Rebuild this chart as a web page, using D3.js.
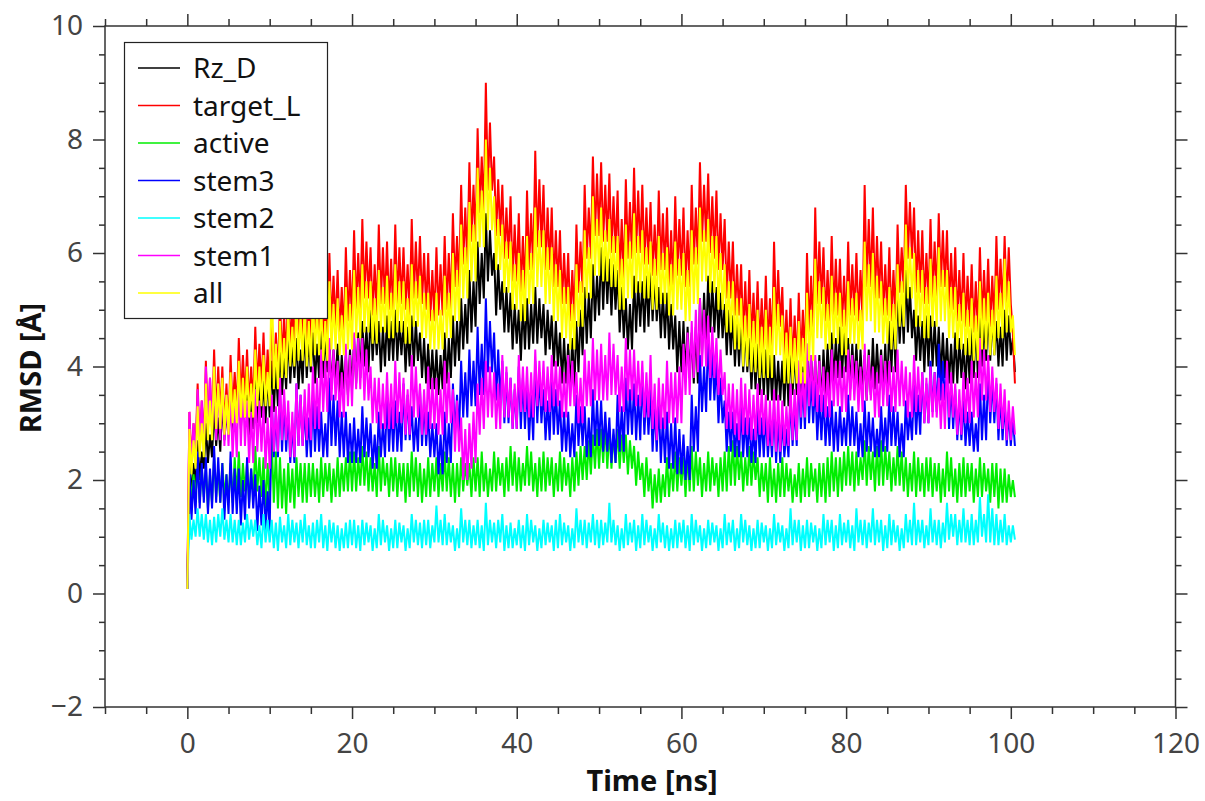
<!DOCTYPE html>
<html><head><meta charset="utf-8">
<script src="https://cdn.jsdelivr.net/npm/d3@7"></script>
<style>html,body{margin:0;padding:0;background:#fff;}svg{display:block;}</style>
</head><body>
<svg id="chart" width="1205" height="801"></svg>
<script>
// ---- data (RMSD in Å, sampled every 0.25 ns from 0 to 100.5 ns) ----
const seriesNames = ["Rz_D","target_L","active","stem3","stem2","stem1","all"];
const seriesColors = ["#000000","#ff0000","#00ee00","#0000ff","#00ffff","#ff00ff","#ffff00"];
const xTickLabels = [0,20,40,60,80,100,120];
const yTickLabels = [-2,0,2,4,6,8,10];
const sampleStep = 0.25;

const rzD = [0.08,
2.4,1.7,2.3,1.9,2.7,2.0,2.5,2.2,3.0,2.3,2.8,2.4,3.3,2.6,3.1,2.5,3.4,2.7,3.2,2.8,
3.6,2.8,3.4,3.0,3.8,2.9,3.6,3.1,3.5,2.7,3.4,2.9,3.9,3.0,3.7,3.1,3.8,3.0,3.9,3.1,
4.1,3.2,4.0,3.3,4.4,3.5,4.2,3.6,4.6,3.7,4.4,3.8,4.5,3.6,4.3,3.7,4.7,3.8,4.5,3.9,
4.6,3.7,4.4,3.8,4.8,3.8,4.6,3.9,4.5,3.6,4.3,3.7,4.4,3.5,4.2,3.6,4.2,3.5,4.3,3.6,
4.5,3.7,4.6,3.8,4.8,4.0,4.7,3.9,5.0,4.1,4.8,4.2,4.8,3.9,4.7,4.0,4.9,4.1,4.8,4.1,
5.0,4.1,4.8,4.2,4.8,3.9,4.7,4.0,4.9,4.0,4.8,4.1,4.6,3.8,4.5,3.7,4.4,3.6,4.3,3.6,
4.3,3.5,4.2,3.6,4.6,3.7,4.5,3.8,4.9,4.0,4.8,4.1,5.2,4.3,5.1,4.4,5.7,4.6,5.5,4.7,
6.2,5.1,6.0,5.2,6.7,5.5,6.4,5.6,6.0,4.9,5.8,5.0,5.5,4.6,5.4,4.6,5.3,4.3,5.1,4.4,
5.0,4.1,5.1,4.3,5.2,4.3,5.1,4.4,5.4,4.4,5.2,4.5,5.1,4.2,5.0,4.3,4.9,4.0,4.8,4.0,
4.6,3.7,4.5,3.7,4.4,3.6,4.5,3.6,4.8,3.9,5.0,4.2,5.4,4.4,5.3,4.5,5.8,4.8,5.6,4.9,
6.1,5.0,6.0,5.1,5.9,4.9,5.8,5.0,5.7,4.6,5.4,4.5,5.2,4.3,5.1,4.3,5.6,4.6,5.5,4.7,
5.5,4.6,5.6,4.7,5.7,4.8,5.6,4.8,5.4,4.5,5.3,4.5,5.3,4.3,5.1,4.3,4.9,3.9,4.8,3.9,
4.8,3.8,4.7,3.8,4.6,3.7,4.7,3.7,5.2,4.2,5.3,4.4,5.6,4.6,5.5,4.6,5.4,4.5,5.3,4.5,
5.1,4.2,5.0,4.2,4.9,4.0,4.8,4.0,4.8,3.9,4.7,3.9,4.5,3.6,4.4,3.6,4.4,3.5,4.3,3.5,
4.3,3.4,4.2,3.4,4.2,3.4,4.1,3.4,4.1,3.3,4.2,3.3,4.4,3.5,4.3,3.5,4.1,3.3,4.0,3.3,
4.4,3.4,4.2,3.4,4.1,3.3,4.2,3.3,4.3,3.5,4.4,3.5,4.6,3.7,4.5,3.8,4.7,3.8,4.6,3.9,
4.5,3.6,4.4,3.7,4.4,3.5,4.3,3.6,4.2,3.4,4.3,3.5,4.5,3.6,4.4,3.7,4.3,3.5,4.4,3.6,
4.8,3.9,5.0,3.9,5.4,4.4,5.2,4.4,5.7,4.6,5.4,4.5,5.0,4.1,4.9,4.1,4.8,3.9,4.9,4.0,
4.9,4.0,4.8,4.0,4.7,3.8,4.6,3.8,4.5,3.7,4.4,3.7,4.6,3.7,4.5,3.8,4.4,3.6,4.5,3.7,
4.7,3.8,4.8,3.8,4.9,4.0,4.8,4.1,5.0,4.1,4.9,4.2,4.8,4.0,4.7,4.0,5.0,4.1,4.9,4.2,
4.5,3.9];

const targetL = [0.1,
3.2,2.3,3.0,2.5,3.7,2.6,3.4,2.6,4.1,2.9,3.8,2.9,4.3,3.1,4.0,3.1,4.0,2.9,3.7,2.9,
4.2,3.2,3.9,3.2,4.5,3.4,4.2,3.4,4.3,3.3,4.0,3.3,4.7,3.6,4.4,3.6,4.6,3.5,4.3,3.5,
4.9,3.8,4.6,3.8,5.2,4.1,4.9,4.1,5.5,4.3,5.1,4.3,5.7,4.4,5.3,4.4,5.4,4.3,5.1,4.3,
5.8,4.5,5.4,4.5,5.5,4.4,5.2,4.4,6.0,4.7,5.6,4.7,5.7,4.5,5.4,4.5,6.1,4.8,5.7,4.8,
6.4,5.0,6.0,5.0,6.6,5.2,6.2,5.2,6.1,4.9,5.8,4.9,6.5,5.1,6.1,5.1,6.2,5.0,5.9,4.9,
6.5,5.1,6.1,5.1,6.1,5.0,5.8,4.9,6.6,5.2,6.2,5.2,6.3,5.1,6.0,5.0,6.0,4.8,5.7,4.8,
6.1,4.9,5.8,4.9,6.3,5.0,6.0,5.0,6.7,5.4,6.3,5.4,7.2,5.8,6.8,5.8,7.6,6.2,7.2,6.2,
8.2,6.7,7.7,6.7,9.0,7.1,8.3,7.1,7.7,6.3,7.3,6.3,7.2,5.9,6.8,5.9,7.0,5.5,6.5,5.5,
6.7,5.3,6.3,5.3,7.1,5.7,6.7,5.7,7.8,6.1,7.3,6.1,7.2,5.7,6.8,5.7,6.8,5.4,6.4,5.4,
6.4,5.1,6.0,5.1,6.0,4.8,5.7,4.8,6.5,5.3,6.2,5.3,7.2,5.9,6.8,5.9,7.7,6.3,7.4,6.3,
7.6,6.2,7.2,6.2,7.4,6.0,7.0,6.0,7.1,5.5,6.6,5.5,7.3,5.9,6.9,5.9,7.5,6.0,7.1,6.0,
7.2,5.8,6.8,5.8,6.9,5.6,6.5,5.6,7.1,5.7,6.7,5.7,6.8,5.4,6.4,5.4,7.0,5.6,6.6,5.6,
6.8,5.4,6.4,5.4,7.2,5.8,6.8,5.8,7.6,6.2,7.2,6.2,7.4,6.0,7.0,5.9,7.1,5.7,6.7,5.7,
6.6,5.2,6.2,5.2,6.2,4.9,5.8,4.9,5.8,4.5,5.5,4.5,5.7,4.4,5.3,4.4,5.5,4.3,5.2,4.3,
5.6,4.3,5.2,4.3,6.2,4.7,5.7,4.7,5.4,4.1,5.0,4.1,5.2,4.0,4.9,4.0,5.3,4.1,5.0,4.1,
6.0,4.6,5.6,4.6,6.8,5.1,6.2,5.1,6.1,4.8,5.7,4.8,6.3,4.9,5.9,4.9,5.9,4.7,5.6,4.7,
6.2,4.9,5.8,4.9,6.0,4.8,5.7,4.8,7.2,5.4,6.6,5.4,6.8,5.2,6.3,5.2,6.2,4.9,5.8,4.9,
6.1,4.8,5.7,4.8,6.5,5.3,6.1,5.3,7.2,5.9,6.9,5.9,6.8,5.3,6.4,5.3,6.4,5.1,6.0,5.1,
6.6,5.2,6.2,5.2,6.7,5.4,6.4,5.4,6.4,5.0,6.0,5.0,6.1,4.8,5.7,4.8,6.0,4.7,5.6,4.7,
5.8,4.6,5.5,4.6,6.1,4.8,5.7,4.8,5.9,4.7,5.6,4.7,6.3,5.0,5.9,5.0,6.3,5.1,6.1,5.1,
4.6,3.7];

const active = [0.08,
2.2,1.6,2.1,1.7,2.3,1.6,2.2,1.7,2.2,1.5,2.1,1.6,2.4,1.7,2.2,1.6,2.3,1.7,2.1,1.6,
2.3,1.6,2.4,1.7,2.5,1.7,2.3,1.8,2.3,1.6,2.2,1.7,2.6,1.8,2.4,1.7,2.4,1.5,2.3,1.6,
2.7,1.6,2.5,1.5,2.4,1.5,2.2,1.4,2.3,1.6,2.2,1.5,2.4,1.7,2.3,1.6,2.3,1.6,2.3,1.7,
2.3,1.7,2.2,1.6,2.4,1.7,2.3,1.8,2.3,1.6,2.2,1.7,2.4,1.7,2.3,1.8,2.4,1.8,2.5,1.8,
2.5,1.8,2.4,1.9,2.6,1.9,2.5,1.8,2.4,1.8,2.3,1.7,2.6,1.8,2.4,1.9,2.3,1.7,2.4,1.8,
2.4,1.7,2.3,1.8,2.3,1.6,2.3,1.7,2.5,1.8,2.4,1.7,2.3,1.6,2.2,1.7,2.4,1.7,2.3,1.8,
2.4,1.7,2.3,1.8,2.5,1.8,2.4,1.7,2.3,1.6,2.3,1.7,2.4,1.8,2.3,1.9,2.3,1.7,2.4,1.8,
2.4,1.7,2.5,1.8,2.3,1.7,2.2,1.8,2.5,1.8,2.4,1.9,2.3,1.7,2.4,1.8,2.6,1.9,2.5,1.8,
2.4,1.8,2.3,1.9,2.6,1.9,2.5,1.8,2.3,1.7,2.4,1.8,2.5,1.8,2.4,1.9,2.4,1.7,2.3,1.8,
2.5,1.8,2.4,1.9,2.3,1.7,2.4,1.8,2.5,1.9,2.6,2.0,2.6,2.0,2.7,2.1,2.8,2.2,2.9,2.2,
2.9,2.3,3.0,2.2,2.9,2.2,2.8,2.3,2.9,2.2,2.8,2.3,2.8,2.1,2.7,2.2,2.6,1.9,2.5,2.0,
2.3,1.7,2.4,1.8,2.2,1.5,2.1,1.6,2.2,1.6,2.1,1.7,2.4,1.7,2.3,1.8,2.5,1.8,2.4,1.9,
2.4,1.7,2.5,1.8,2.6,1.8,2.5,1.9,2.4,1.7,2.3,1.8,2.5,1.8,2.4,1.9,2.3,1.7,2.4,1.8,
2.5,1.8,2.6,1.9,2.7,1.9,2.6,2.0,2.5,1.8,2.4,1.9,2.6,1.9,2.5,2.0,2.4,1.7,2.3,1.8,
2.3,1.6,2.4,1.7,2.2,1.6,2.3,1.7,2.4,1.7,2.3,1.8,2.2,1.6,2.1,1.7,2.3,1.6,2.2,1.7,
2.4,1.7,2.3,1.8,2.2,1.6,2.3,1.7,2.3,1.6,2.4,1.7,2.5,1.8,2.4,1.7,2.4,1.8,2.5,1.9,
2.6,1.9,2.5,1.8,2.5,1.9,2.4,2.0,2.7,1.9,2.6,2.0,2.5,1.8,2.6,1.9,2.7,1.9,2.6,2.0,
2.5,1.8,2.4,1.9,2.6,1.9,2.5,1.8,2.4,1.7,2.3,1.8,2.5,1.7,2.4,1.8,2.3,1.7,2.4,1.8,
2.4,1.7,2.3,1.8,2.3,1.6,2.2,1.7,2.5,1.8,2.4,1.7,2.2,1.6,2.3,1.7,2.4,1.7,2.3,1.8,
2.3,1.6,2.2,1.7,2.4,1.7,2.3,1.8,2.2,1.6,2.3,1.7,2.3,1.5,2.2,1.6,2.2,1.6,2.1,1.7,
2.0,1.7];

const stem3 = [0.08,
2.2,1.3,2.0,1.4,2.5,1.5,2.3,1.6,2.4,1.4,2.2,1.5,2.6,1.6,2.4,1.6,2.3,1.3,2.1,1.4,
2.5,1.4,2.2,1.4,2.2,1.2,2.0,1.3,2.4,1.5,2.2,1.5,2.1,1.1,1.9,1.2,2.0,1.1,1.8,1.1,
3.4,2.4,3.2,2.4,3.6,2.5,3.4,2.5,3.2,2.3,3.0,2.3,3.7,2.6,3.5,2.6,3.3,2.4,3.1,2.4,
3.5,2.5,3.3,2.5,3.2,2.4,3.0,2.4,3.8,2.6,3.5,2.6,3.4,2.4,3.2,2.4,3.2,2.3,3.0,2.3,
3.1,2.3,2.9,2.3,3.3,2.4,3.1,2.4,3.0,2.2,2.8,2.2,3.2,2.4,3.0,2.4,3.5,2.5,3.3,2.5,
3.4,2.5,3.2,2.5,3.7,2.7,3.5,2.7,3.3,2.5,3.1,2.5,3.6,2.6,3.4,2.6,3.2,2.4,3.0,2.4,
3.0,2.1,2.8,2.1,3.2,2.3,3.0,2.3,3.7,2.8,3.5,2.8,4.1,3.1,3.9,3.1,4.3,3.3,4.1,3.3,
4.7,3.5,4.4,3.5,5.2,3.9,4.8,3.9,4.6,3.4,4.3,3.4,4.1,3.0,3.9,3.0,3.8,2.9,3.6,2.9,
4.0,2.9,3.8,2.9,3.7,2.7,3.5,2.7,4.1,3.0,3.9,3.0,3.6,2.7,3.4,2.7,3.8,2.8,3.6,2.8,
3.4,2.5,3.2,2.5,3.2,2.4,3.0,2.4,3.5,2.6,3.3,2.6,3.3,2.4,3.1,2.4,3.6,2.6,3.4,2.6,
3.4,2.5,3.2,2.5,3.1,2.3,2.9,2.3,3.5,2.5,3.3,2.5,3.8,2.8,3.6,2.8,3.7,2.7,3.5,2.7,
3.9,2.8,3.6,2.8,3.6,2.5,3.3,2.5,3.4,2.3,3.1,2.3,3.2,2.2,3.0,2.2,3.1,2.1,2.9,2.1,
2.8,2.0,2.6,2.0,3.5,2.5,3.3,2.5,4.2,3.2,4.0,3.2,4.6,3.4,4.3,3.4,4.1,3.0,3.8,3.0,
3.4,2.5,3.2,2.5,3.2,2.4,3.0,2.4,3.3,2.4,3.1,2.4,3.1,2.3,2.9,2.3,3.3,2.4,3.1,2.4,
3.2,2.4,3.0,2.4,3.3,2.3,3.1,2.3,3.1,2.4,2.9,2.4,3.5,2.6,3.3,2.6,3.9,2.9,3.7,2.9,
4.1,3.0,3.8,3.0,3.7,2.7,3.5,2.7,3.5,2.6,3.3,2.6,3.4,2.5,3.2,2.5,3.3,2.6,3.1,2.6,
3.5,2.6,3.3,2.6,3.2,2.4,3.0,2.4,3.4,2.5,3.2,2.5,3.1,2.4,2.9,2.4,3.3,2.5,3.1,2.5,
3.5,2.6,3.3,2.6,3.2,2.4,3.0,2.4,3.4,2.7,3.2,2.7,3.7,2.8,3.5,2.8,3.9,3.0,3.7,3.0,
4.1,3.2,3.9,3.2,4.4,3.4,4.1,3.4,4.0,2.9,3.7,2.9,3.6,2.7,3.4,2.7,3.4,2.6,3.2,2.6,
3.2,2.5,3.0,2.5,3.7,2.7,3.5,2.7,4.0,3.0,3.8,3.0,3.7,2.7,3.5,2.7,3.4,2.6,3.2,2.6,
3.1,2.6];

const stem2 = [0.08,
1.4,0.95,1.3,1.0,1.5,1.0,1.4,0.95,1.4,0.9,1.3,0.85,1.35,0.9,1.4,1.0,1.5,0.95,1.3,0.9,
1.4,0.9,1.3,0.85,1.3,0.85,1.25,0.9,1.4,0.95,1.3,1.0,1.3,0.85,1.2,0.8,1.4,0.9,1.3,0.9,
1.3,0.8,1.25,0.75,1.35,0.9,1.2,0.8,1.4,0.85,1.3,0.9,1.25,0.8,1.3,0.9,1.4,0.85,1.2,0.8,
1.25,0.8,1.3,0.9,1.4,0.8,1.2,0.75,1.3,0.9,1.25,0.8,1.2,0.75,1.15,0.8,1.25,0.8,1.3,0.85,
1.3,0.8,1.2,0.75,1.3,0.85,1.25,0.9,1.2,0.75,1.15,0.8,1.4,0.85,1.3,0.9,1.2,0.75,1.15,0.8,
1.3,0.8,1.25,0.9,1.2,0.75,1.15,0.8,1.4,0.9,1.3,0.85,1.25,0.8,1.3,0.85,1.3,0.8,1.2,0.9,
1.55,0.9,1.3,0.85,1.4,0.85,1.25,0.9,1.2,0.75,1.15,0.8,1.5,0.9,1.3,0.85,1.3,0.8,1.2,0.85,
1.3,0.8,1.2,0.75,1.6,0.85,1.3,0.9,1.25,0.8,1.3,0.9,1.4,0.75,1.2,0.8,1.25,0.8,1.15,0.85,
1.3,0.8,1.2,0.75,1.4,0.85,1.3,0.9,1.2,0.75,1.15,0.8,1.3,0.85,1.25,0.9,1.2,0.75,1.3,0.8,
1.4,0.85,1.25,0.9,1.2,0.75,1.15,0.8,1.5,0.9,1.3,0.85,1.3,0.8,1.25,0.9,1.4,0.85,1.3,0.8,
1.3,0.85,1.25,0.9,1.6,0.9,1.3,0.85,1.2,0.75,1.15,0.8,1.4,0.85,1.25,0.9,1.3,0.75,1.2,0.8,
1.4,0.85,1.3,0.9,1.2,0.75,1.15,0.8,1.4,0.9,1.25,0.8,1.2,0.75,1.15,0.8,1.3,0.8,1.25,0.9,
1.3,0.8,1.2,0.75,1.4,0.85,1.3,0.9,1.2,0.75,1.15,0.8,1.3,0.85,1.25,0.9,1.2,0.75,1.15,0.8,
1.4,0.85,1.25,0.9,1.3,0.75,1.15,0.8,1.4,0.9,1.3,0.85,1.2,0.75,1.15,0.8,1.3,0.8,1.25,0.9,
1.2,0.75,1.15,0.8,1.4,0.85,1.25,0.9,1.2,0.75,1.15,0.8,1.5,0.85,1.3,0.9,1.3,0.75,1.2,0.8,
1.3,0.8,1.25,0.9,1.2,0.75,1.15,0.8,1.4,0.85,1.3,0.9,1.3,0.75,1.2,0.8,1.4,0.85,1.25,0.9,
1.3,0.8,1.2,0.75,1.5,0.9,1.3,0.85,1.3,0.8,1.25,0.9,1.5,0.85,1.3,0.9,1.3,0.75,1.2,0.8,
1.4,0.85,1.3,0.9,1.2,0.75,1.15,0.8,1.4,0.9,1.3,0.85,1.6,0.85,1.3,0.9,1.3,0.8,1.2,0.85,
1.5,0.9,1.3,0.85,1.3,0.8,1.25,0.9,1.6,0.95,1.4,1.0,1.4,0.85,1.3,0.9,1.5,0.9,1.3,0.85,
1.4,0.85,1.3,0.9,1.7,1.0,1.4,0.9,1.75,0.9,1.5,0.85,1.4,0.85,1.3,0.9,1.4,0.85,1.2,0.9,
1.2,0.95];

const stem1 = [0.08,
3.2,2.2,3.0,2.3,3.6,2.5,3.4,2.5,4.0,2.9,3.8,2.9,3.9,2.7,3.7,2.7,3.7,2.6,3.5,2.6,
3.5,2.4,3.3,2.4,3.8,2.6,3.6,2.6,3.4,2.3,3.2,2.3,3.6,2.5,3.4,2.5,3.3,2.2,3.1,2.2,
3.5,2.5,3.3,2.5,3.8,2.7,3.6,2.7,3.4,2.4,3.2,2.4,3.7,2.6,3.5,2.6,3.6,2.7,3.7,2.7,
4.0,2.9,3.8,2.9,4.3,3.2,4.1,3.2,4.5,3.4,4.3,3.4,4.1,3.1,3.9,3.1,4.4,3.3,4.2,3.3,
4.6,3.6,4.5,3.6,4.5,3.4,4.3,3.4,4.0,3.0,3.8,3.0,3.8,2.9,3.7,2.9,3.9,2.9,3.7,2.9,
4.1,3.0,3.9,3.0,3.8,2.8,3.6,2.8,4.2,3.1,4.0,3.1,3.7,2.8,3.6,2.8,4.0,2.9,3.8,2.9,
3.8,2.8,3.6,2.8,4.1,3.0,3.9,3.0,3.6,2.5,3.4,2.5,3.1,2.0,2.9,2.0,3.0,2.2,3.2,2.3,
3.7,2.8,3.8,2.9,4.1,3.1,4.0,3.1,3.9,2.9,3.7,2.9,4.2,3.1,4.0,3.1,3.8,2.9,3.7,2.9,
4.2,3.2,4.0,3.2,4.0,3.1,3.9,3.1,4.3,3.3,4.1,3.3,4.1,3.2,4.0,3.2,4.2,3.3,4.1,3.3,
4.0,3.1,3.9,3.1,4.2,3.3,4.1,3.3,3.9,3.0,3.8,3.0,4.3,3.3,4.1,3.3,4.5,3.4,4.3,3.4,
4.4,3.4,4.2,3.4,4.6,3.5,4.4,3.5,4.2,3.2,4.0,3.2,4.5,3.4,4.3,3.4,4.3,3.3,4.1,3.3,
4.1,3.1,3.9,3.1,4.2,2.9,3.7,2.7,3.8,2.9,3.7,2.9,4.1,3.0,3.9,3.0,3.9,3.0,4.0,3.0,
4.4,3.5,4.6,3.5,4.8,3.8,5.0,3.9,5.2,4.0,5.0,4.0,4.9,3.8,4.7,3.8,4.5,3.5,4.3,3.5,
3.9,2.9,3.7,2.9,3.7,2.8,3.6,2.7,3.8,2.8,3.7,2.8,3.6,2.7,3.5,2.7,3.7,2.8,3.6,2.8,
3.5,2.6,3.4,2.6,3.6,2.5,3.5,2.5,3.4,2.6,3.3,2.6,3.7,2.7,3.6,2.7,4.1,3.1,3.9,3.1,
4.4,3.3,4.2,3.3,4.2,3.2,4.1,3.2,4.0,3.1,3.9,3.1,4.3,3.3,4.1,3.3,4.1,3.2,4.0,3.2,
4.3,3.4,4.2,3.4,4.1,3.2,4.0,3.2,4.4,3.4,4.2,3.4,4.0,3.1,3.9,3.1,4.2,3.3,4.1,3.3,
4.1,3.2,4.0,3.2,4.3,3.3,4.1,3.3,4.0,3.1,3.9,3.1,4.2,3.2,4.0,3.2,3.9,3.0,3.8,3.0,
4.0,3.1,3.9,3.1,3.8,2.9,3.7,2.9,4.1,3.1,3.9,3.1,3.7,2.8,3.6,2.8,3.9,3.0,3.8,3.0,
4.1,3.1,3.9,3.1,4.5,3.4,4.3,3.4,4.2,3.2,4.0,3.2,3.8,2.9,3.7,2.9,3.6,2.7,3.4,2.7,
3.3,2.8];

const allRes = [0.08,
2.9,2.1,2.7,2.2,3.3,2.4,3.0,2.4,3.7,2.7,3.4,2.7,4.0,2.9,3.7,2.9,3.8,2.8,3.5,2.8,
3.9,3.0,3.6,3.0,4.1,3.1,3.8,3.1,4.0,3.1,3.7,3.1,4.3,3.3,4.0,3.3,4.2,3.3,3.9,3.3,
5.9,3.6,4.4,3.6,4.8,3.8,4.5,3.8,5.0,4.0,4.7,4.0,5.2,4.1,4.9,4.1,5.1,4.0,4.8,4.0,
5.3,4.2,5.0,4.2,5.1,4.1,4.8,4.1,5.5,4.3,5.1,4.3,5.2,4.2,4.9,4.2,5.4,4.3,5.1,4.3,
5.7,4.5,5.4,4.5,5.8,4.6,5.5,4.6,5.5,4.4,5.2,4.4,5.7,4.6,5.4,4.6,5.6,4.5,5.3,4.5,
5.8,4.6,5.5,4.6,5.5,4.4,5.2,4.4,5.8,4.7,5.5,4.7,5.6,4.5,5.3,4.5,5.3,4.3,5.0,4.3,
5.3,4.3,5.0,4.3,5.6,4.5,5.3,4.5,6.0,4.8,5.7,4.8,6.5,5.2,6.1,5.2,6.9,5.5,6.5,5.5,
7.5,6.1,7.1,6.1,8.0,6.4,7.5,6.4,7.0,5.7,6.6,5.7,6.5,5.3,6.2,5.3,6.2,5.0,5.8,5.0,
6.0,4.8,5.7,4.8,6.3,5.1,6.0,5.1,6.8,5.4,6.4,5.4,6.4,5.1,6.1,5.1,6.1,4.8,5.8,4.8,
5.7,4.5,5.4,4.5,5.4,4.3,5.1,4.3,5.8,4.7,5.5,4.7,6.4,5.2,6.1,5.2,7.0,5.6,6.6,5.6,
6.8,5.5,6.4,5.5,6.6,5.4,6.3,5.4,6.3,5.0,5.9,5.0,6.5,5.2,6.2,5.2,6.7,5.3,6.3,5.3,
6.4,5.2,6.1,5.2,6.2,5.0,5.9,5.0,6.3,5.1,6.0,5.1,6.1,4.9,5.8,4.9,6.2,5.0,5.9,5.0,
6.0,4.8,5.7,4.8,6.4,5.1,6.1,5.1,6.8,5.5,6.4,5.5,6.6,5.3,6.3,5.3,6.3,5.0,6.0,5.0,
5.8,4.6,5.5,4.6,5.5,4.3,5.2,4.3,5.2,4.0,4.9,4.0,5.1,3.9,4.8,3.9,5.0,3.8,4.7,3.8,
5.0,3.8,4.7,3.8,5.4,4.2,5.1,4.2,4.9,3.7,4.6,3.7,4.7,3.7,4.5,3.7,4.8,3.7,4.5,3.7,
5.3,4.1,5.0,4.1,5.9,4.5,5.5,4.5,5.4,4.3,5.1,4.3,5.6,4.4,5.3,4.4,5.3,4.2,5.0,4.2,
5.5,4.4,5.2,4.4,5.3,4.3,5.0,4.3,6.2,4.8,5.8,4.8,6.0,4.6,5.6,4.6,5.5,4.4,5.2,4.4,
5.4,4.3,5.1,4.3,5.8,4.7,5.5,4.7,6.5,5.2,6.1,5.2,6.0,4.7,5.7,4.7,5.7,4.5,5.4,4.5,
5.9,4.7,5.6,4.7,6.1,4.8,5.7,4.8,5.7,4.5,5.4,4.5,5.4,4.3,5.1,4.3,5.3,4.2,5.0,4.2,
5.2,4.1,4.9,4.1,5.5,4.3,5.2,4.3,5.3,4.2,5.0,4.2,5.6,4.5,5.3,4.5,5.9,4.6,5.5,4.6,
4.9,4.2];

const seriesValues = [rzD, targetL, active, stem3, stem2, stem1, allRes];

// ---- layout ----
const L = 105, R = 1175.5, T = 26, B = 707;
const svg = d3.select("#chart");
const x = d3.scaleLinear().domain([-10, 120]).range([L, R]);
const y = d3.scaleLinear().domain([-2, 10]).range([B, T]);
const axisColor = "#333";
const labelColor = "#444";
const font = "'Noto Sans', 'Open Sans', sans-serif";

// data lines
const plot = svg.append("g");
seriesValues.forEach((vals, si) => {
  const pts = vals.map((v, i) => [i * sampleStep, v]);
  plot.append("path")
    .attr("d", d3.line().x(d => x(d[0])).y(d => y(d[1]))(pts))
    .attr("fill", "none")
    .attr("stroke", seriesColors[si])
    .attr("stroke-width", 2)
    .attr("stroke-linejoin", "bevel");
});

// axes
const xMinor = d3.range(-10, 121, 5).filter(v => v % 20 !== 0);
const yMinor = d3.range(-2, 10.01, 0.5).filter(v => Math.abs(v % 2) > 1e-9);
function styleAxis(g) {
  g.select(".domain").remove();
  g.selectAll("line").attr("stroke", axisColor).attr("stroke-width", 1.5);
}
svg.append("g").attr("transform", `translate(0,${B})`)
  .call(d3.axisBottom(x).tickValues(xTickLabels).tickSize(12).tickPadding(14).tickFormat(d3.format("d")))
  .call(styleAxis)
  .call(g => g.selectAll("text").attr("font-family", font).attr("font-size", 28).attr("fill", labelColor));
svg.append("g").attr("transform", `translate(0,${B})`)
  .call(d3.axisBottom(x).tickValues(xMinor).tickSize(7).tickFormat(""))
  .call(styleAxis);
svg.append("g").attr("transform", `translate(0,${T})`)
  .call(d3.axisTop(x).tickValues(xTickLabels).tickSize(12).tickFormat(""))
  .call(styleAxis);
svg.append("g").attr("transform", `translate(0,${T})`)
  .call(d3.axisTop(x).tickValues(xMinor).tickSize(7).tickFormat(""))
  .call(styleAxis);
svg.append("g").attr("transform", `translate(${L},0)`)
  .call(d3.axisLeft(y).tickValues(yTickLabels).tickSize(12).tickPadding(10).tickFormat(d => d < 0 ? "\u2212" + Math.abs(d) : d))
  .call(styleAxis)
  .call(g => g.selectAll("text").attr("font-family", font).attr("font-size", 28).attr("fill", labelColor));
svg.append("g").attr("transform", `translate(${L},0)`)
  .call(d3.axisLeft(y).tickValues(yMinor).tickSize(6).tickFormat(""))
  .call(styleAxis);
svg.append("g").attr("transform", `translate(${R},0)`)
  .call(d3.axisRight(y).tickValues(yTickLabels).tickSize(12).tickFormat(""))
  .call(styleAxis);
svg.append("g").attr("transform", `translate(${R},0)`)
  .call(d3.axisRight(y).tickValues(yMinor).tickSize(6).tickFormat(""))
  .call(styleAxis);

// frame
svg.append("rect").attr("x", L).attr("y", T).attr("width", R - L).attr("height", B - T)
  .attr("fill", "none").attr("stroke", axisColor).attr("stroke-width", 1.5);

// axis titles
svg.append("text").attr("x", 652).attr("y", 791).attr("text-anchor", "middle")
  .attr("font-family", font).attr("font-weight", "bold").attr("font-size", 29).attr("fill", "#111")
  .text("Time [ns]");
svg.append("text").attr("transform", "translate(41,368) rotate(-90)").attr("text-anchor", "middle")
  .attr("font-family", font).attr("font-weight", "bold").attr("font-size", 29).attr("fill", "#111")
  .text("RMSD [Å]");

// legend
const lg = svg.append("g");
lg.append("rect").attr("x", 124.5).attr("y", 42.5).attr("width", 203).attr("height", 276)
  .attr("fill", "#fff").attr("stroke", "#222").attr("stroke-width", 1.2);
seriesNames.forEach((name, i) => {
  const yy = 68 + i * 37.5;
  lg.append("line").attr("x1", 138).attr("x2", 180).attr("y1", yy).attr("y2", yy)
    .attr("stroke", seriesColors[i]).attr("stroke-width", 1.3);
  lg.append("text").attr("x", 193).attr("y", yy + 10).attr("font-family", font).attr("font-size", 28)
    .attr("fill", "#111").text(name);
});
</script>
</body></html>
